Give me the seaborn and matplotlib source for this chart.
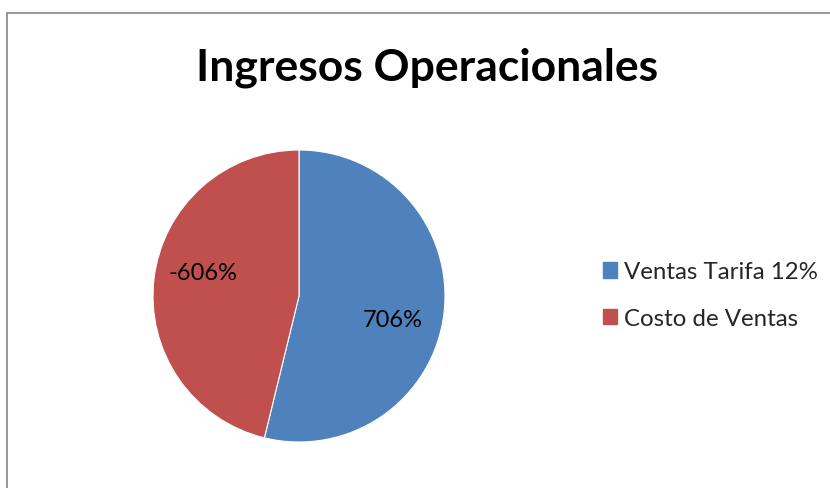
import numpy as np
import matplotlib
matplotlib.use('Agg')
import matplotlib.pyplot as plt
from matplotlib.patches import Rectangle
import seaborn as sns

# Data
categories = ['Ventas Tarifa 12%', 'Costo de Ventas']
values = [706, -606]
colors = ['#4F81BD', '#C0504D']
label_pos = [(0.64, -0.16), (-0.66, 0.16)]

sns.set_theme(style='white')
plt.rcParams['font.family'] = ['Lato', 'DejaVu Sans']

fig = plt.figure(figsize=(8.30, 4.89), dpi=100)
fig.patch.set_facecolor('white')

# chart border (left + top only visible in the crop)
fig.add_artist(plt.Line2D([6.5 / 830, 6.5 / 830], [0, 1 - 13.5 / 489], color='#868686', lw=1.2))
fig.add_artist(plt.Line2D([6.5 / 830, 1], [1 - 13.5 / 489, 1 - 13.5 / 489], color='#868686', lw=1.2))

fig.text(427 / 830, 1 - 68 / 489, 'Ingresos Operacionales', ha='center', va='center',
         fontsize=32, fontweight='bold', color='black')

# Pie
ax = fig.add_axes([153 / 830, 46 / 489, 292 / 830, 292 / 489])
wedges, texts, autotexts = ax.pie(np.abs(values), colors=colors, startangle=90, counterclock=False,
                                  autopct=lambda p: '', wedgeprops=dict(edgecolor='white', linewidth=0.8))
for t, v, pos in zip(autotexts, values, label_pos):
    t.set_text(f'{v}%')
    t.set_position(pos)
    t.set_ha('center')
    t.set_va('center')
    t.set_fontsize(17)
    t.set_color('black')
ax.set_xlim(-1, 1)
ax.set_ylim(-1, 1)
ax.set_aspect('equal')
ax.axis('off')

# Legend
handles = [Rectangle((0, 0), 1, 1, color=c) for c in colors]
fig.legend(handles, categories, loc='center left', bbox_to_anchor=(581 / 830, 1 - 296 / 489),
           frameon=False, fontsize=17.3, handlelength=0.6, handleheight=0.6, handletextpad=0.3,
           labelspacing=1.05)

fig.savefig('out.png', dpi=100)
